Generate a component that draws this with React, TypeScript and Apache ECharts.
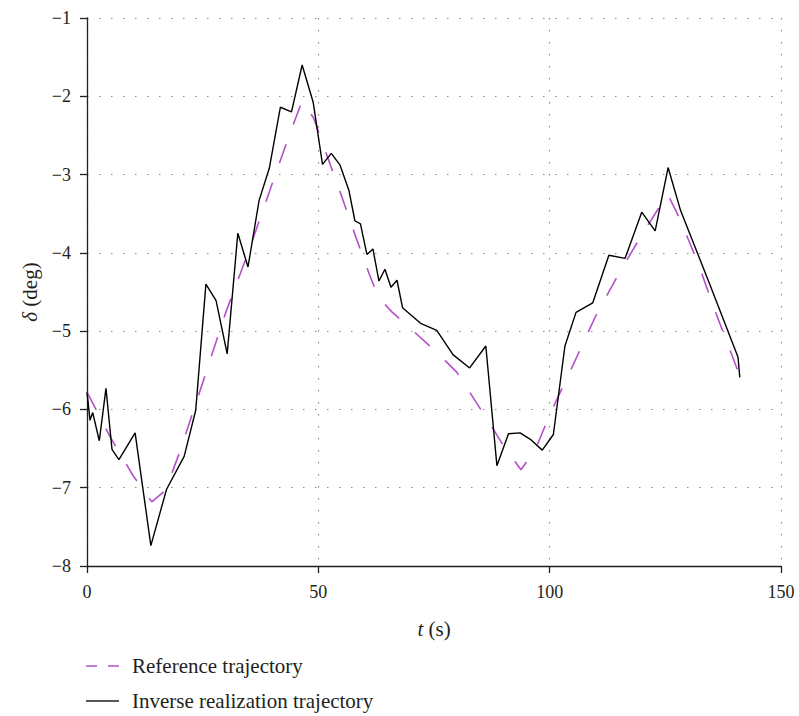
import React, { useEffect, useRef } from "react";
import * as echarts from "echarts";

const refT = [0, 5, 10, 14, 17, 20, 25, 30, 35, 40, 44, 46.5, 49, 52, 55, 58, 61, 63, 66, 70, 75, 78.5, 80, 85, 90, 93.8, 97, 100, 105, 110, 115, 120, 125.5, 128, 132, 136, 141.4];
const refV = [-5.78, -6.35, -6.85, -7.18, -7.03, -6.55, -5.66, -4.76, -3.97, -3.12, -2.45, -2.06, -2.28, -2.78, -3.27, -3.78, -4.27, -4.57, -4.76, -4.97, -5.24, -5.44, -5.53, -5.99, -6.46, -6.77, -6.50, -6.07, -5.44, -4.80, -4.26, -3.76, -3.25, -3.55, -4.12, -4.78, -5.62];

const invT = [0, 0.65, 1.23, 2.66, 4.1, 5.4, 6.9, 10.4, 13.8, 17.2, 21.0, 23.5, 25.7, 27.9, 30.3, 32.6, 34.8, 37.2, 39.4, 41.8, 44.2, 46.5, 48.9, 50.9, 52.8, 54.7, 56.6, 57.9, 59.1, 60.5, 61.8, 63.1, 64.4, 65.7, 67.0, 68.2, 72.1, 75.6, 79.1, 82.7, 86.2, 88.6, 91.1, 93.6, 96.0, 98.4, 100.8, 103.3, 105.7, 109.3, 112.8, 116.3, 119.9, 122.8, 125.6, 128.3, 134.6, 140.7, 141.1];
const invV = [-5.78, -6.14, -6.04, -6.40, -5.73, -6.51, -6.64, -6.30, -7.74, -7.02, -6.60, -6.01, -4.40, -4.61, -5.29, -3.75, -4.18, -3.33, -2.92, -2.14, -2.20, -1.60, -2.08, -2.87, -2.73, -2.88, -3.20, -3.59, -3.63, -4.02, -3.95, -4.36, -4.21, -4.44, -4.35, -4.70, -4.90, -4.99, -5.30, -5.47, -5.19, -6.72, -6.31, -6.30, -6.39, -6.52, -6.32, -5.19, -4.76, -4.64, -4.03, -4.07, -3.48, -3.72, -2.91, -3.46, -4.40, -5.33, -5.59];

const seriesNames = ["Reference trajectory", "Inverse realization trajectory"];
const xTicks = [0, 50, 100, 150];
const yTicks = [-8, -7, -6, -5, -4, -3, -2, -1];

const FONT = "'Liberation Serif', 'Times New Roman', serif";
const PURPLE = "#b450c8";
const INK = "#231f20";

export default function App() {
  const ref = useRef<HTMLDivElement>(null);
  useEffect(() => {
    if (!ref.current) return;
    const chart = echarts.init(ref.current, undefined, { renderer: "svg" });
    const fmt = (v: number) => String(v).replace("-", "\u2212");
    const grid = { type: [1.5, 10.5] as number[], color: "#8a8a8a", width: 1.2 };
    const nameStyle = {
      fontFamily: FONT, fontSize: 21, color: INK,
      rich: { i: { fontFamily: FONT, fontSize: 21, fontStyle: "italic", color: INK } },
    };
    chart.setOption({
      animation: false,
      textStyle: { fontFamily: FONT, color: INK },
      grid: { left: 87, right: 18, top: 18, bottom: 150, containLabel: false },
      xAxis: {
        type: "value",
        min: xTicks[0],
        max: xTicks[xTicks.length - 1],
        interval: 50,
        name: "{i|t} (s)",
        nameLocation: "middle",
        nameGap: 52,
        nameTextStyle: nameStyle,
        axisLine: { onZero: false, lineStyle: { color: INK, width: 1.3 } },
        axisTick: { inside: false, length: 7, lineStyle: { color: INK, width: 1.3 } },
        axisLabel: { fontFamily: FONT, fontSize: 18, color: INK, margin: 17, formatter: fmt },
        splitLine: { show: true, lineStyle: grid },
      },
      yAxis: {
        type: "value",
        min: yTicks[0],
        max: yTicks[yTicks.length - 1],
        interval: 1,
        name: "{i|\u03b4} (deg)",
        nameLocation: "middle",
        nameGap: 46,
        nameRotate: 90,
        nameTextStyle: nameStyle,
        axisLine: { show: true, onZero: false, lineStyle: { color: INK, width: 1.3 } },
        axisTick: { show: true, inside: false, length: 7, lineStyle: { color: INK, width: 1.3 } },
        axisLabel: { fontFamily: FONT, fontSize: 18, color: INK, margin: 16, formatter: fmt },
        splitLine: { show: true, lineStyle: grid },
      },
      legend: {
        orient: "vertical",
        left: 86,
        top: 654,
        height: 62,
        padding: 0,
        itemWidth: 33,
        itemHeight: 14,
        itemGap: 11,
        icon: "none",
        textStyle: { fontFamily: FONT, fontSize: 21, color: INK, lineHeight: 24, padding: [0, 0, 0, 8] },
        data: [seriesNames[0], seriesNames[1]],
      },
      graphic: [
        {
          type: "line",
          shape: { x1: 86, y1: 666, x2: 119, y2: 666 },
          style: { stroke: PURPLE, lineWidth: 1.6, lineDash: [11, 11] },
        },
        {
          type: "line",
          shape: { x1: 86, y1: 701, x2: 119, y2: 701 },
          style: { stroke: INK, lineWidth: 1.3 },
        },
      ],
      series: [
        {
          name: seriesNames[0],
          type: "line",
          data: refT.map((t, i) => [t, refV[i]]),
          showSymbol: false,
          symbol: "none",
          lineStyle: { color: PURPLE, width: 1.6, type: [20, 21] },
          itemStyle: { color: PURPLE },
          z: 3,
        },
        {
          name: seriesNames[1],
          type: "line",
          data: invT.map((t, i) => [t, invV[i]]),
          showSymbol: false,
          symbol: "none",
          lineStyle: { color: "#000", width: 1.4 },
          itemStyle: { color: "#000" },
          z: 4,
        },
      ],
    });
    return () => chart.dispose();
  }, []);
  return <div ref={ref} style={{ width: 799, height: 716, position: "absolute", left: 0, top: 0 }} />;
}
